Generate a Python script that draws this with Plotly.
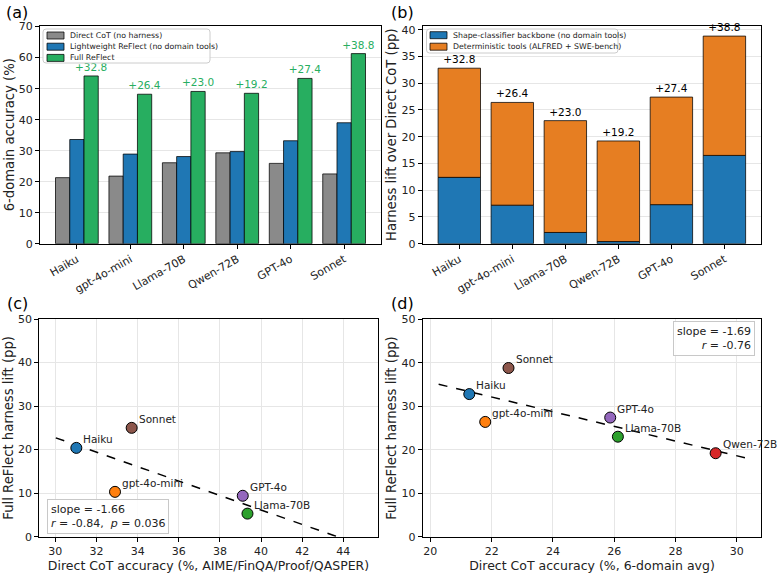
import plotly.graph_objects as go

models = ["Haiku", "gpt-4o-mini", "Llama-70B", "Qwen-72B", "GPT-4o", "Sonnet"]
direct_cot = [21.3, 21.8, 26.1, 29.3, 25.9, 22.5]
lightweight = [33.6, 28.9, 28.1, 29.7, 33.2, 39.0]
full_reflect = [54.1, 48.2, 49.1, 48.5, 53.3, 61.3]
lift = [32.8, 26.4, 23.0, 19.2, 27.4, 38.8]
backbone = [12.4, 7.2, 2.1, 0.4, 7.3, 16.5]
tools = [round(l - b, 2) for l, b in zip(lift, backbone)]

# panel (c): reasoning-domain subset
c_models = ["Haiku", "gpt-4o-mini", "Sonnet", "GPT-4o", "Llama-70B"]
c_x = [31.02, 32.9, 33.71, 39.11, 39.34]
c_y = [20.4, 10.3, 25.0, 9.4, 5.3]
c_slope, c_r, c_p = -1.66, -0.84, 0.036
c_line_end = 45.5

# panel (d): 6-domain
d_models = ["Haiku", "gpt-4o-mini", "Sonnet", "GPT-4o", "Llama-70B", "Qwen-72B"]
d_x = [21.27, 21.79, 22.55, 25.87, 26.12, 29.31]
d_y = [32.8, 26.4, 38.8, 27.4, 23.0, 19.2]
d_slope, d_r = -1.69, -0.76

model_colors = {"Haiku": "#1f77b4", "gpt-4o-mini": "#ff7f0e", "Llama-70B": "#2ca02c",
                "Qwen-72B": "#d62728", "GPT-4o": "#9467bd", "Sonnet": "#8c564b"}

FONT = "DejaVu Sans"
GRAY, BLUE, GREEN, ORANGE = "#8a8a8a", "#1f77b4", "#27ae60", "#e67e22"
EDGE = "rgba(0,0,0,0.75)"

a_series = [("Direct CoT (no harness)", direct_cot, GRAY),
            ("Lightweight ReFlect (no domain tools)", lightweight, BLUE),
            ("Full ReFlect", full_reflect, GREEN)]
b_series = [("Shape-classifier backbone (no domain tools)", BLUE),
            ("Deterministic tools (ALFRED + SWE-bench)", ORANGE)]

fig = go.Figure()

# (a)
for name, vals, col in a_series:
    kw = {}
    if name == "Full ReFlect":
        kw = dict(text=[f"+{v:.1f}" for v in lift], textposition="outside", constraintext="none", cliponaxis=False,
                  textfont=dict(color=GREEN, size=10.5, family=FONT))
    fig.add_trace(go.Bar(x=models, y=vals, name=name, marker=dict(color=col, line=dict(color=EDGE, width=1)),
                         xaxis="x", yaxis="y", showlegend=False, **kw))

# (b)
fig.add_trace(go.Bar(x=models, y=backbone, name=b_series[0][0], offsetgroup="s",
                     marker=dict(color=BLUE, line=dict(color=EDGE, width=1)), xaxis="x2", yaxis="y2", showlegend=False))
fig.add_trace(go.Bar(x=models, y=tools, base=backbone, name=b_series[1][0], offsetgroup="s",
                     marker=dict(color=ORANGE, line=dict(color=EDGE, width=1)),
                     text=[f"+{v:.1f}" for v in lift], textposition="outside", constraintext="none", cliponaxis=False,
                     textfont=dict(color="black", size=10.5, family=FONT),
                     xaxis="x2", yaxis="y2", showlegend=False))

def scatter_panel(xs, ys, names, slope, span, xa, ya):
    mx = sum(xs) / len(xs)
    my = sum(ys) / len(ys)
    lx = span
    ly = [my + slope * (v - mx) for v in lx]
    fig.add_trace(go.Scatter(x=lx, y=ly, mode="lines", line=dict(color="black", width=1.5, dash="dash"),
                             showlegend=False, xaxis=xa, yaxis=ya, hoverinfo="skip"))
    fig.add_trace(go.Scatter(x=xs, y=ys, mode="markers",
                             marker=dict(size=11, color=[model_colors[n] for n in names], line=dict(color="black", width=1)),
                             showlegend=False, xaxis=xa, yaxis=ya, cliponaxis=False))
    for x, y, n in zip(xs, ys, names):
        fig.add_annotation(x=x, y=y, xref=xa, yref=ya, text=n, showarrow=False, xanchor="left", yanchor="bottom",
                           xshift=5, yshift=1, font=dict(size=10.5, family=FONT, color="#222"))

scatter_panel(c_x, c_y, c_models, c_slope, [min(c_x) - 1, c_line_end], "x3", "y3")
scatter_panel(d_x, d_y, d_models, d_slope, [min(d_x) - 1, max(d_x) + 1], "x4", "y4")

fig.add_annotation(xref="paper", yref="paper", x=47 / 777, y=1 - 534 / 573, xanchor="left", yanchor="bottom", showarrow=False,
                   text=f"slope = {c_slope:.2f}<br><i>r</i> = {c_r:.2f},  <i>p</i> = {c_p:.3f}", align="left",
                   bordercolor="#c8c8c8", borderwidth=1, borderpad=3, bgcolor="rgba(255,255,255,0.85)",
                   font=dict(size=11, family=FONT, color="#222"))
fig.add_annotation(xref="paper", yref="paper", x=755 / 777, y=1 - 321 / 573, xanchor="right", yanchor="top", showarrow=False,
                   text=f"slope = {d_slope:.2f}<br><i>r</i> = {d_r:.2f}", align="right",
                   bordercolor="#c8c8c8", borderwidth=1, borderpad=3, bgcolor="rgba(255,255,255,0.85)",
                   font=dict(size=11, family=FONT, color="#222"))

for lbl, px, py in [("(a)", 4, 1), ("(b)", 389, 1), ("(c)", 5, 292), ("(d)", 389, 292)]:
    fig.add_annotation(xref="paper", yref="paper", x=px / 777, y=1 - py / 573, xanchor="left", yanchor="top",
                       text=lbl, showarrow=False, font=dict(size=16, family=FONT, color="black"))

# compact matplotlib-style legends (paper coordinates)
W, H = 777.0, 573.0

def rounded_box(x0, y0, x1, y1, r=3):
    X = lambda v: v / W
    Y = lambda v: 1 - v / H
    return (f"M {X(x0 + r)},{Y(y0)} L {X(x1 - r)},{Y(y0)} Q {X(x1)},{Y(y0)} {X(x1)},{Y(y0 + r)} "
            f"L {X(x1)},{Y(y1 - r)} Q {X(x1)},{Y(y1)} {X(x1 - r)},{Y(y1)} L {X(x0 + r)},{Y(y1)} "
            f"Q {X(x0)},{Y(y1)} {X(x0)},{Y(y1 - r)} L {X(x0)},{Y(y0 + r)} Q {X(x0)},{Y(y0)} {X(x0 + r)},{Y(y0)} Z")

def legend(box, entries, x_sw, y_first, dy):
    fig.add_shape(type="path", xref="paper", yref="paper", path=rounded_box(*box),
                  line=dict(color="#cccccc", width=1), fillcolor="rgba(255,255,255,0.85)", layer="above")
    for i, (name, col) in enumerate(entries):
        yc = y_first + i * dy
        fig.add_shape(type="rect", xref="paper", yref="paper",
                      x0=x_sw / W, x1=(x_sw + 17) / W, y0=1 - (yc + 3.5) / H, y1=1 - (yc - 3.5) / H,
                      fillcolor=col, line=dict(color=EDGE, width=1), layer="above")
        fig.add_annotation(xref="paper", yref="paper", x=(x_sw + 21) / W, y=1 - yc / H, xanchor="left", yanchor="middle",
                           text=name, showarrow=False, font=dict(size=7.8, family=FONT, color="#222"))

legend((43, 29, 210, 63), [(n, c) for n, _, c in a_series], 47, 35.5, 11.2)
legend((426.5, 29, 618, 53), b_series, 430, 35.2, 11.5)

def dom_x(a, b):
    return [a / 777, b / 777]

def dom_y(top, bot):
    return [1 - bot / 573, 1 - top / 573]

tickfont = dict(size=11, family=FONT, color="#222")
ytitlefont = dict(size=13.2, family=FONT, color="#222")
xtitlefont = dict(size=12.5, family=FONT, color="#222")
common = dict(showline=True, linecolor="black", linewidth=1, mirror=True, ticks="outside", ticklen=4,
              tickcolor="black", tickfont=tickfont, zeroline=False, automargin=False)

fig.update_layout(
    width=777, height=573, margin=dict(l=0, r=0, t=0, b=0),
    paper_bgcolor="white", plot_bgcolor="white",
    barmode="group", bargap=0.2, bargroupgap=0, showlegend=False,
    font=dict(family=FONT),
    xaxis=dict(domain=dom_x(40, 381), anchor="y", range=[-0.69, 5.69], tickangle=-30, showgrid=False, **common),
    yaxis=dict(domain=dom_y(25.7, 243.7), anchor="x", range=[0, 70.3], dtick=10, showgrid=True, gridcolor="#e6e6e6",
               title=dict(text="6-domain accuracy (%)", font=ytitlefont, standoff=1), **common),
    xaxis2=dict(domain=dom_x(422.7, 761), anchor="y2", range=[-0.69, 5.69], tickangle=-30, showgrid=False, **common),
    yaxis2=dict(domain=dom_y(25.7, 243.7), anchor="x2", range=[0, 40.74], dtick=5, showgrid=True, gridcolor="#e6e6e6",
                title=dict(text="Harness lift over Direct CoT (pp)", font=ytitlefont, standoff=1), **common),
    xaxis3=dict(domain=dom_x(39.3, 377.7), anchor="y3", range=[29.22, 45.67], dtick=2, showgrid=True, gridcolor="#e6e6e6",
                title=dict(text="Direct CoT accuracy (%, AIME/FinQA/Proof/QASPER)", font=xtitlefont, standoff=0), **common),
    yaxis3=dict(domain=dom_y(319, 536.7), anchor="x3", range=[0, 50], dtick=10, showgrid=True, gridcolor="#e6e6e6",
                title=dict(text="Full ReFlect harness lift (pp)", font=ytitlefont, standoff=1), **common),
    xaxis4=dict(domain=dom_x(422.7, 761.3), anchor="y4", range=[19.75, 30.8], dtick=2, showgrid=True, gridcolor="#e6e6e6",
                title=dict(text="Direct CoT accuracy (%, 6-domain avg)", font=xtitlefont, standoff=0), **common),
    yaxis4=dict(domain=dom_y(319.3, 536.7), anchor="x4", range=[0, 50], dtick=10, showgrid=True, gridcolor="#e6e6e6",
                title=dict(text="Full ReFlect harness lift (pp)", font=ytitlefont, standoff=1), **common),
)

fig.write_html("out.html")
